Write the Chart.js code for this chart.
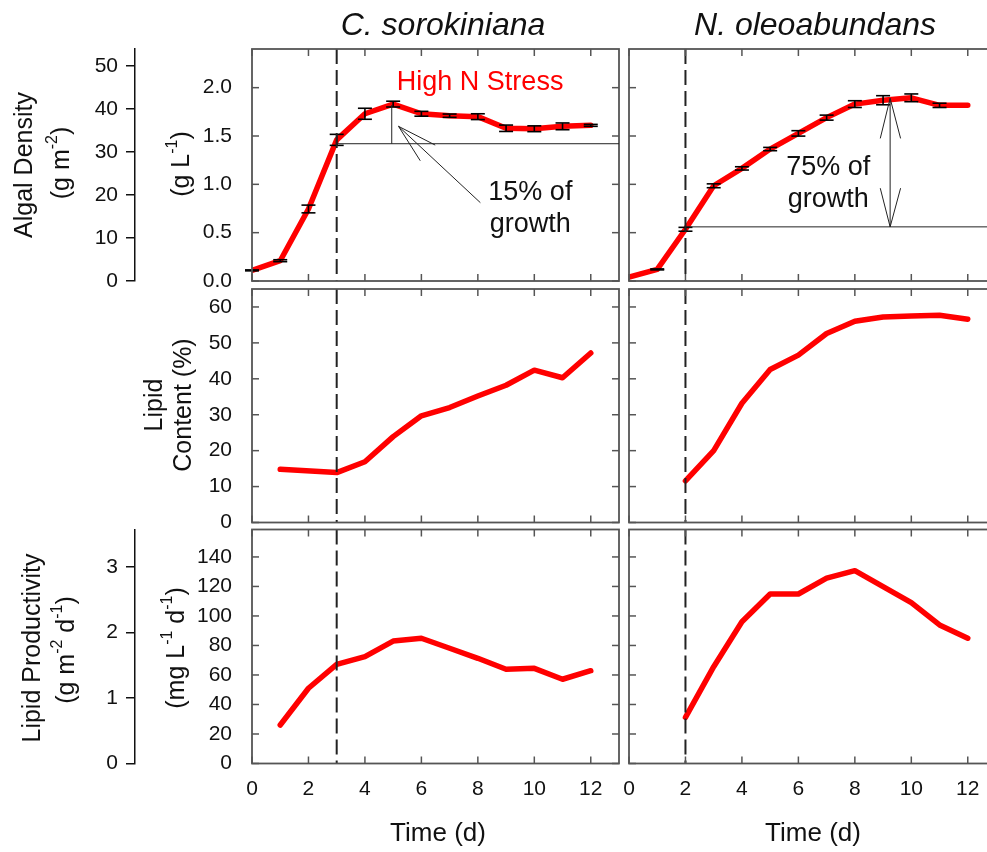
<!DOCTYPE html>
<html lang="en">
<head>
  <meta charset="UTF-8">
  <title>Algal density, lipid content and lipid productivity</title>
  <script src="https://cdn.jsdelivr.net/npm/chart.js"></script>
  <style>
    html, body { margin: 0; background: #fff; overflow: hidden; }
    #wrap { position: relative; width: 987px; height: 852px; overflow: hidden; background: #fff; }
    #wrap canvas { position: absolute; left: 0; top: 0; }
  </style>
</head>
<body>
<div id="wrap">
  <canvas id="p1" width="1000" height="852"></canvas>
  <canvas id="p2" width="1000" height="852"></canvas>
  <canvas id="p3" width="1000" height="852"></canvas>
  <canvas id="p4" width="1000" height="852"></canvas>
  <canvas id="p5" width="1000" height="852"></canvas>
  <canvas id="p6" width="1000" height="852"></canvas>
</div>

<script>
// --- data ---
const days = [0, 1, 2, 3, 4, 5, 6, 7, 8, 9, 10, 11, 12];

// algal density, g/L
const csDensity    = [0.11, 0.21, 0.745, 1.46, 1.73, 1.83, 1.73, 1.71, 1.70, 1.58, 1.575, 1.60, 1.61];
const csDensityErr = [0.005, 0.01, 0.04, 0.057, 0.057, 0.03, 0.025, 0.017, 0.03, 0.033, 0.03, 0.035, 0.01];
const noDensity    = [0.04, 0.12, 0.535, 0.985, 1.165, 1.365, 1.527, 1.69, 1.83, 1.87, 1.895, 1.817, 1.817];
const noDensityErr = [0, 0.005, 0.02, 0.02, 0.017, 0.017, 0.028, 0.026, 0.035, 0.047, 0.04, 0.022, 0];

// lipid content, %
const csLipidDays = [1, 3, 4, 5, 6, 7, 8, 9, 10, 11, 12];
const csLipid     = [14.8, 13.9, 16.9, 23.9, 29.7, 32.0, 35.2, 38.2, 42.4, 40.3, 47.2];
const noLipidDays = [2, 3, 4, 5, 6, 7, 8, 9, 10, 11, 12];
const noLipid     = [11.6, 20.0, 33.2, 42.6, 46.6, 52.6, 56.0, 57.2, 57.5, 57.7, 56.6];

// lipid productivity, mg/L/d
const csProdDays = [1, 2, 3, 4, 5, 6, 7, 8, 9, 10, 11, 12];
const csProd     = [26.1, 51.0, 67.2, 72.4, 83.0, 84.9, 78.1, 71.3, 63.9, 64.5, 57.1, 62.9];
const noProdDays = [2, 3, 4, 5, 6, 7, 8, 9, 10, 11, 12];
const noProd     = [31.3, 65.6, 96.1, 114.9, 114.9, 125.6, 130.7, 119.9, 109.0, 93.9, 84.9];

// ticks
const xTicks            = [0, 2, 4, 6, 8, 10, 12];
const densityTicks      = [0, 0.5, 1.0, 1.5, 2.0];
const arealDensityTicks = [0, 10, 20, 30, 40, 50];
const lipidTicks        = [0, 10, 20, 30, 40, 50, 60];
const prodTicks         = [0, 20, 40, 60, 80, 100, 120, 140];
const arealProdTicks    = [0, 1, 2, 3];

const FONT = '"Liberation Sans", Arial, sans-serif';
const INK = '#111';
const FRAME = '#555';
const RED = '#ff0000';
const AXIS_X = 135;   // x of the outer (areal) axis line

function pts(xs, ys) { return xs.map((x, i) => ({ x: x, y: ys[i] })); }

function line(ctx, x1, y1, x2, y2) {
  ctx.beginPath(); ctx.moveTo(x1, y1); ctx.lineTo(x2, y2); ctx.stroke();
}

// text with raised small parts, optionally rotated
function rich(ctx, x, y, parts, size, opts) {
  opts = opts || {};
  const sup = Math.round(size * 0.62);
  const fam = (opts.italic ? 'italic ' : '') ;
  ctx.save();
  ctx.translate(x, y);
  if (opts.rot) ctx.rotate(-Math.PI / 2);
  ctx.fillStyle = opts.color || INK;
  ctx.textBaseline = 'middle';
  ctx.textAlign = 'left';
  let w = 0;
  parts.forEach(p => {
    ctx.font = fam + (p[1] ? sup : size) + 'px ' + FONT;
    w += ctx.measureText(p[0]).width;
  });
  let cx = -w / 2;
  parts.forEach(p => {
    ctx.font = fam + (p[1] ? sup : size) + 'px ' + FONT;
    ctx.fillText(p[0], cx, p[1] ? -size * 0.36 : 0);
    cx += ctx.measureText(p[0]).width;
  });
  ctx.restore();
}

function pageText(ctx) {
  rich(ctx, 443, 26, [['C. sorokiniana']], 32, { italic: true });
  rich(ctx, 815, 26, [['N. oleoabundans']], 32, { italic: true });

  rich(ctx, 25, 165, [['Algal Density']], 25, { rot: true });
  rich(ctx, 62, 163, [['(g m'], ['-2', 1], [')']], 25, { rot: true });
  rich(ctx, 182, 164, [['(g L'], ['-1', 1], [')']], 25, { rot: true });

  rich(ctx, 155, 405, [['Lipid']], 25, { rot: true });
  rich(ctx, 184, 405, [['Content (%)']], 25, { rot: true });

  rich(ctx, 33, 648, [['Lipid Productivity']], 25, { rot: true });
  rich(ctx, 67, 650, [['(g m'], ['-2', 1], [' d'], ['-1', 1], [')']], 25, { rot: true });
  rich(ctx, 177, 648, [['(mg L'], ['-1', 1], [' d'], ['-1', 1], [')']], 25, { rot: true });

  rich(ctx, 438, 834, [['Time (d)']], 26);
  rich(ctx, 813, 834, [['Time (d)']], 26);
}

function makePanel(id, p) {
  const yW = p.showY ? p.left - AXIS_X : 0;
  const y2W = p.y2 ? AXIS_X : 0;
  const xH = p.showX ? 40 : 0;
  const tickFont = { family: FONT, size: 21 };

  const scales = {
    x: {
      type: 'linear', min: 0, max: 13, display: p.showX,
      afterBuildTicks: s => { s.ticks = xTicks.map(v => ({ value: v })); },
      afterFit: s => { s.height = xH; },
      grid: { display: false, drawTicks: false },
      border: { display: false },
      ticks: { padding: 13, color: INK, font: tickFont, maxRotation: 0, autoSkip: false }
    },
    y: {
      type: 'linear', min: 0, max: p.yMax, display: p.showY, weight: 0,
      afterBuildTicks: s => { s.ticks = p.yTicks.map(v => ({ value: v })); },
      afterFit: s => { s.width = yW; },
      grid: { display: false, drawTicks: false },
      border: { display: false },
      ticks: { padding: 20, color: INK, font: tickFont, autoSkip: false,
               callback: v => Number(v).toFixed(p.dec) }
    }
  };
  if (p.y2) {
    scales.y2 = {
      type: 'linear', position: 'left', weight: 1, min: 0, max: p.y2.max,
      afterBuildTicks: s => { s.ticks = p.y2.ticks.map(v => ({ value: v })); },
      afterFit: s => { s.width = y2W; },
      grid: { drawOnChartArea: false, drawTicks: true, tickLength: 9, color: INK, lineWidth: 1.5 },
      border: { display: true, color: INK, width: 1.5 },
      ticks: { padding: 8, color: INK, font: tickFont, autoSkip: false }
    };
  }

  const decor = {
    id: 'decor' + id,
    afterDatasetsDraw(chart) {
      const ctx = chart.ctx, a = chart.chartArea;
      const xs = chart.scales.x, ys = chart.scales.y;
      const X = v => xs.getPixelForValue(v), Y = v => ys.getPixelForValue(v);
      ctx.save();
      // error bars
      if (p.err) {
        ctx.strokeStyle = '#000'; ctx.lineWidth = 1.6;
        p.xs.forEach((d, i) => {
          const e = p.err[i];
          if (!e) return;
          const px = X(d), lo = Y(p.ys[i] - e), hi = Y(p.ys[i] + e);
          line(ctx, px, lo, px, hi);
          line(ctx, px - 7, lo, px + 7, lo);
          line(ctx, px - 7, hi, px + 7, hi);
        });
      }
      // nitrogen depletion marker
      ctx.strokeStyle = '#222'; ctx.lineWidth = 2;
      ctx.setLineDash([15, 6]);
      line(ctx, X(p.dashAt), a.top, X(p.dashAt), a.bottom);
      ctx.setLineDash([]);
      // frame with inward ticks
      ctx.strokeStyle = FRAME; ctx.lineWidth = 1.8;
      ctx.strokeRect(a.left, a.top, a.right - a.left, a.bottom - a.top);
      ctx.lineWidth = 1.5;
      xTicks.forEach(v => {
        const px = X(v);
        line(ctx, px, a.top, px, a.top + 7);
        line(ctx, px, a.bottom, px, a.bottom - 7);
      });
      p.yTicks.forEach(v => {
        const py = Y(v);
        line(ctx, a.left, py, a.left + 7, py);
        line(ctx, a.right, py, a.right - 7, py);
      });
      if (p.notes) p.notes(ctx, X, Y, a);
      ctx.restore();
    },
    afterDraw(chart) {
      if (p.page) pageText(chart.ctx);
    }
  };

  return new Chart(document.getElementById(id), {
    type: 'line',
    data: {
      datasets: [{
        data: pts(p.xs, p.ys),
        borderColor: RED, borderWidth: 5.5,
        borderCapStyle: 'round', borderJoinStyle: 'round',
        pointRadius: 0, tension: 0, fill: false
      }]
    },
    options: {
      responsive: false, animation: false, devicePixelRatio: 1,
      layout: { padding: {
        left: p.left - yW - y2W, top: p.top,
        right: 1000 - p.right, bottom: 852 - p.bottom - xH
      } },
      plugins: { legend: { display: false }, tooltip: { enabled: false } },
      scales: scales
    },
    plugins: [decor]
  });
}

const L = { left: 252, right: 619 }, R = { left: 629, right: 996 };
const ROW1 = { top: 49, bottom: 281 }, ROW2 = { top: 289, bottom: 522.5 }, ROW3 = { top: 529.5, bottom: 763.5 };

makePanel('p1', Object.assign({}, L, ROW1, {
  xs: days, ys: csDensity, err: csDensityErr, yMax: 2.4, yTicks: densityTicks, dec: 1,
  showY: true, showX: false, dashAt: 3, page: true,
  y2: { max: 54, ticks: arealDensityTicks },
  notes(ctx, X, Y, a) {
    ctx.strokeStyle = '#222'; ctx.lineWidth = 1;
    line(ctx, X(3), Y(1.42), a.right, Y(1.42));
    line(ctx, X(4.95), Y(1.42), X(4.95), Y(1.82));
    line(ctx, X(8.09), Y(0.81), X(5.19), Y(1.60));
    line(ctx, X(5.19), Y(1.60), X(5.96), Y(1.244));
    line(ctx, X(5.19), Y(1.60), X(6.49), Y(1.406));
    rich(ctx, X(8.08), Y(2.05), [['High N Stress']], 27, { color: RED });
    rich(ctx, X(9.86), Y(0.92), [['15% of']], 27);
    rich(ctx, X(9.86), Y(0.58), [['growth']], 27);
  }
}));

makePanel('p2', Object.assign({}, R, ROW1, {
  xs: days, ys: noDensity, err: noDensityErr, yMax: 2.4, yTicks: densityTicks, dec: 1,
  showY: false, showX: false, dashAt: 2,
  notes(ctx, X, Y, a) {
    ctx.strokeStyle = '#222'; ctx.lineWidth = 1;
    line(ctx, X(2), Y(0.56), a.right, Y(0.56));
    line(ctx, X(9.25), Y(0.56), X(9.25), Y(1.89));
    line(ctx, X(9.25), Y(1.89), X(8.9), Y(1.475));
    line(ctx, X(9.25), Y(1.89), X(9.62), Y(1.475));
    line(ctx, X(9.25), Y(0.56), X(8.9), Y(0.96));
    line(ctx, X(9.25), Y(0.56), X(9.62), Y(0.96));
    rich(ctx, X(7.06), Y(1.17), [['75% of']], 27);
    rich(ctx, X(7.06), Y(0.84), [['growth']], 27);
  }
}));

makePanel('p3', Object.assign({}, L, ROW2, {
  xs: csLipidDays, ys: csLipid, yMax: 65, yTicks: lipidTicks, dec: 0,
  showY: true, showX: false, dashAt: 3
}));

makePanel('p4', Object.assign({}, R, ROW2, {
  xs: noLipidDays, ys: noLipid, yMax: 65, yTicks: lipidTicks, dec: 0,
  showY: false, showX: false, dashAt: 2
}));

makePanel('p5', Object.assign({}, L, ROW3, {
  xs: csProdDays, ys: csProd, yMax: 158.6, yTicks: prodTicks, dec: 0,
  showY: true, showX: true, dashAt: 3,
  y2: { max: 3.57, ticks: arealProdTicks }
}));

makePanel('p6', Object.assign({}, R, ROW3, {
  xs: noProdDays, ys: noProd, yMax: 158.6, yTicks: prodTicks, dec: 0,
  showY: false, showX: true, dashAt: 2
}));
</script>
</body>
</html>
